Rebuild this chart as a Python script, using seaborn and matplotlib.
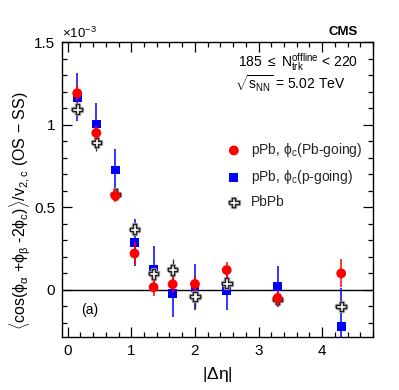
#!/usr/bin/env python3
"""Charge-dependent correlator vs |delta eta| for pPb and PbPb (CMS style)."""

import matplotlib as mpl
import matplotlib.patheffects as pe
import matplotlib.pyplot as plt
import pandas as pd
import seaborn as sns
from matplotlib.ticker import FuncFormatter, MultipleLocator

mpl.use("Agg")

# values in units of 1e-3
DETA = [0.15, 0.45, 0.75, 1.05, 1.35, 1.65, 2.0, 2.5, 3.3, 4.3]
PB_GOING = [1.19, 0.95, 0.57, 0.22, 0.016, 0.034, 0.036, 0.12, -0.05, 0.10]
PB_GOING_ERR = [0.05, 0.04, 0.04, 0.07, 0.05, 0.05, 0.05, 0.05, 0.05, 0.085]
P_GOING = [1.166, 1.004, 0.726, 0.286, 0.125, -0.02, 0.016, -0.004, 0.02, -0.222]
P_GOING_ERR = [0.145, 0.125, 0.125, 0.14, 0.14, 0.145, 0.14, 0.12, 0.125, 0.236]
PBPB = [1.093, 0.893, 0.579, 0.367, 0.097, 0.121, -0.04, 0.04, -0.056, -0.101]
PBPB_ERR = [0.03, 0.05, 0.03, 0.04, 0.04, 0.065, 0.07, 0.04, 0.04, 0.04]

LABELS = [r"pPb, $\phi_{\mathrm{c}}$(Pb-going)",
          r"pPb, $\phi_{\mathrm{c}}$(p-going)",
          "PbPb"]

CROSS = [(-1, -0.33), (-0.33, -0.33), (-0.33, -1), (0.33, -1), (0.33, -0.33),
         (1, -0.33), (1, 0.33), (0.33, 0.33), (0.33, 1), (-0.33, 1),
         (-0.33, 0.33), (-1, 0.33), (-1, -0.33)]

sns.set_theme(style="ticks")
plt.rcParams["font.family"] = ["Liberation Sans", "DejaVu Sans"]
plt.rcParams["mathtext.fontset"] = "custom"
plt.rcParams["mathtext.rm"] = "Liberation Sans"
plt.rcParams["mathtext.it"] = "Liberation Sans"
plt.rcParams["mathtext.bf"] = "Liberation Sans:bold"


def main():
    df = pd.DataFrame({"deta": DETA * 3,
                       "val": PB_GOING + P_GOING + PBPB,
                       "err": PB_GOING_ERR + P_GOING_ERR + PBPB_ERR,
                       "sample": [LABELS[0]] * 10 + [LABELS[1]] * 10
                       + [LABELS[2]] * 10})

    fig = plt.figure(figsize=(3.99, 3.9), dpi=100)
    ax = fig.add_axes([62 / 399, 1 - 337 / 390, 311 / 399, 295 / 390])

    ax.axhline(0, color="black", lw=1.0, zorder=1)

    styles = {LABELS[1]: dict(color="#0000ff", marker="s", s=40, z=3),
              LABELS[2]: dict(color="#222222", marker=CROSS, s=48, z=4),
              LABELS[0]: dict(color="#ff0000", marker="o", s=50, z=5)}
    for name, st in styles.items():
        sub = df[df["sample"] == name]
        ax.errorbar(sub["deta"], sub["val"], yerr=sub["err"], fmt="none",
                    ecolor=st["color"], elinewidth=1.1 if name != LABELS[2] else 0.9,
                    capsize=0, zorder=st["z"])
        if name == LABELS[2]:
            sns.scatterplot(data=sub, x="deta", y="val", ax=ax, marker=CROSS,
                            s=st["s"], facecolor="white", edgecolor="#222222",
                            linewidth=1.0, zorder=st["z"], label=name,
                            path_effects=[pe.Stroke(linewidth=2.4,
                                                    foreground="#a0a0a0"),
                                          pe.Normal()])
        else:
            sns.scatterplot(data=sub, x="deta", y="val", ax=ax,
                            marker=st["marker"], s=st["s"], color=st["color"],
                            edgecolor="none", linewidth=0, zorder=st["z"],
                            label=name)

    ax.set_xlim(-0.09, 4.8)
    ax.set_ylim(-0.285, 1.5)
    ax.xaxis.set_major_locator(MultipleLocator(1))
    ax.xaxis.set_minor_locator(MultipleLocator(0.2))
    ax.yaxis.set_major_locator(MultipleLocator(0.5))
    ax.yaxis.set_minor_locator(MultipleLocator(0.1))
    ax.yaxis.set_major_formatter(FuncFormatter(lambda v, p: f"{v:g}"))
    ax.tick_params(which="both", direction="in", top=True, right=True,
                   labelsize=11, width=0.9, color="black", labelcolor="black")
    ax.tick_params(which="major", length=7, pad=5)
    ax.tick_params(which="minor", length=3.5)
    for sp in ax.spines.values():
        sp.set_color("black")
        sp.set_linewidth(1.0)

    ax.set_xlabel(r"$|\Delta\eta|$", fontsize=12.5, color="black", labelpad=5)
    ax.set_ylabel(r"$\langle$cos($\phi_{\alpha}$ +$\phi_{\beta}$ -2$\phi_{\mathrm{c}}$)$\rangle$/v$_{\mathrm{2,c}}$ (OS $-$ SS)",
                  fontsize=11.5, color="black")
    ax.yaxis.set_label_coords(-0.092, 0.427)

    ax.text(0.0, 1.005, r"$\times$10$^{-3}$", transform=ax.transAxes,
            fontsize=9.5, ha="left", va="bottom", color="black")
    ax.text(0.95, 1.015, "CMS", transform=ax.transAxes, fontsize=9.5,
            fontweight="bold", ha="right", va="bottom", color="black")
    ax.text(0.952, 0.932, r"185 $\leq$ N$_{\mathrm{trk}}^{\mathrm{offline}}$ < 220",
            transform=ax.transAxes, fontsize=10, ha="right", va="center",
            color="black")
    ax.text(0.912, 0.858, r"$\sqrt{\mathrm{s}_{\mathrm{NN}}}$ = 5.02 TeV",
            transform=ax.transAxes, fontsize=10, ha="right", va="center",
            color="black")
    ax.text(0.09, 0.092, "(a)", transform=ax.transAxes, fontsize=10,
            ha="center", va="center", color="black")

    handles, labels = ax.get_legend_handles_labels()
    order = [labels.index(l) for l in LABELS]
    ax.legend([handles[i] for i in order], [labels[i] for i in order],
              loc="upper left", bbox_to_anchor=(0.49, 0.683), frameon=False,
              fontsize=10, handletextpad=0.25, labelspacing=0.65,
              borderaxespad=0)

    fig.savefig("out.png", dpi=100)
    plt.close(fig)


if __name__ == "__main__":
    main()
